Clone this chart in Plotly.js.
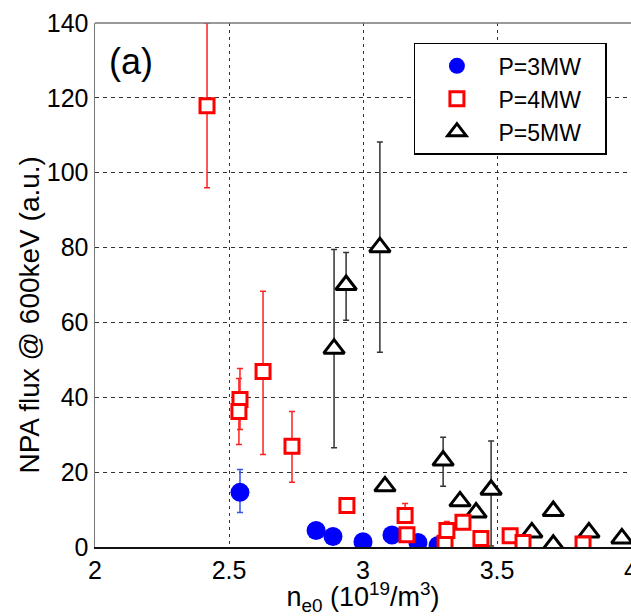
<!DOCTYPE html>
<html>
<head>
<meta charset="utf-8">
<script src="https://cdn.plot.ly/plotly-3.0.1.min.js"></script>
<style>html,body{margin:0;padding:0;background:#fff;}</style>
</head>
<body>
<div id="chart" style="width:631px;height:616px;"></div>
<script>
// P = 3 MW (blue circles)
const p3_x = [2.541, 2.825, 2.888, 3.000, 3.108, 3.205, 3.280];
const p3_y = [14.6, 4.4, 2.8, 1.4, 3.2, 1.2, 0.4];
const p3_errPlus  = [6.1, 0, 0, 0, 0, 0, 0];
const p3_errMinus = [5.4, 0, 0, 0, 0, 0, 0];

// P = 4 MW (red squares)
const p4_x = [2.418, 2.541, 2.537, 2.627, 2.735, 2.940, 3.157, 3.164, 3.306, 3.313, 3.373, 3.440, 3.549, 3.597, 3.821];
const p4_y = [117.9, 39.4, 36.2, 46.9, 26.9, 11.1, 8.4, 3.3, 1.0, 4.4, 6.6, 2.3, 3.0, 1.2, 0.8];
const p4_errPlus  = [22.1, 8.3, 8.8, 21.4, 9.3, 0, 3.2, 0, 0, 2.4, 0, 0, 0, 0, 0];
const p4_errMinus = [21.9, 8.0, 8.8, 22.2, 9.6, 0, 0, 0, 0, 0, 0, 0, 0, 0, 0];

// P = 5 MW (black triangles)
const p5_x = [2.892, 2.937, 3.063, 3.082, 3.299, 3.362, 3.422, 3.478, 3.630, 3.710, 3.710, 3.843, 3.966];
const p5_y = [53.0, 70.0, 80.1, 16.2, 23.1, 12.2, 9.2, 15.3, 3.9, 9.6, 0.6, 3.9, 2.3];
const p5_errPlus  = [26.5, 8.7, 28.1, 0, 6.2, 0, 0, 13.0, 0, 0, 0, 0, 0];
const p5_errMinus = [26.5, 9.4, 28.1, 0, 6.9, 0, 0, 15.0, 0, 0, 0, 0, 0];

const xTicks = [2, 2.5, 3, 3.5, 4];
const xTickText = ['2', '2.5', '3', '3.5', '4'];
const yTicks = [0, 20, 40, 60, 80, 100, 120, 140];
const seriesNames = ['P=3MW', 'P=4MW', 'P=5MW'];
const yTitle = 'NPA flux @ 600keV (a.u.)';
const xTitle = 'n<sub>e0</sub> (10<sup>19</sup>/m<sup>3</sup>)';

const FONT = 'Liberation Sans, Arial, sans-serif';
const PAD = '\u00A0\u00A0\u00A0';

const traces = [
  {
    x: p3_x, y: p3_y, type: 'scatter', mode: 'markers', name: seriesNames[0] + PAD, legendrank: 1,
    marker: {symbol: 'circle', size: 19, color: '#0000ff', line: {width: 0}},
    error_y: {type: 'data', symmetric: false, array: p3_errPlus, arrayminus: p3_errMinus,
              color: '#3355ee', thickness: 1.5, width: 3}
  },
  {
    x: p5_x, y: p5_y, type: 'scatter', mode: 'markers', name: seriesNames[2] + PAD, legendrank: 3,
    marker: {symbol: 'triangle-up', size: 18, color: '#ffffff', line: {width: 3, color: '#000000'}},
    error_y: {type: 'data', symmetric: false, array: p5_errPlus, arrayminus: p5_errMinus,
              color: '#333333', thickness: 1.5, width: 3}
  },
  {
    x: p4_x, y: p4_y, type: 'scatter', mode: 'markers', name: seriesNames[1] + PAD, legendrank: 2,
    marker: {symbol: 'square', size: 14, color: '#ffffff', line: {width: 3, color: '#ff0000'}},
    error_y: {type: 'data', symmetric: false, array: p4_errPlus, arrayminus: p4_errMinus,
              color: '#ff2020', thickness: 1.5, width: 3}
  }
];

const layout = {
  width: 631, height: 616,
  margin: {l: 95, r: 0, t: 23, b: 69},
  paper_bgcolor: '#ffffff', plot_bgcolor: '#ffffff',
  font: {family: FONT, color: '#000000'},
  showlegend: true,
  legend: {
    x: 0.595, y: 0.962, xanchor: 'left', yanchor: 'top',
    bgcolor: '#ffffff', bordercolor: '#000000', borderwidth: 1.5,
    font: {family: FONT, size: 23, color: '#000000'},
    traceorder: 'normal', itemwidth: 73
  },
  xaxis: {
    range: [2, 4], tickvals: xTicks, ticktext: xTickText,
    showgrid: true, gridcolor: '#333333', gridwidth: 1, griddash: '3px,4px',
    zeroline: false, showline: true, linecolor: '#111111', linewidth: 1.5,
    ticks: '', ticklabeloverflow: 'allow',
    tickfont: {family: FONT, size: 25, color: '#000000'},
    title: {text: xTitle, font: {family: FONT, size: 27, color: '#000000'}, standoff: 13},
    automargin: false
  },
  yaxis: {
    range: [0, 140], tickvals: yTicks,
    showgrid: true, gridcolor: '#333333', gridwidth: 1, griddash: '4px,4px',
    zeroline: false, showline: true, linecolor: '#777777', linewidth: 1.5,
    ticks: '', tickfont: {family: FONT, size: 25, color: '#000000'},
    automargin: false
  },
  shapes: [
    {type: 'line', xref: 'paper', yref: 'paper', x0: 0, x1: 1, y0: 1, y1: 1,
     line: {color: '#777777', width: 1.5}}
  ],
  annotations: [
    {text: '(a)', xref: 'paper', yref: 'paper', x: 0.067, y: 0.926,
     xanchor: 'center', yanchor: 'middle', showarrow: false,
     font: {family: FONT, size: 36, color: '#000000'}},
    {text: yTitle, xref: 'paper', yref: 'paper', x: -0.123, y: 0.442,
     xanchor: 'center', yanchor: 'middle', textangle: -90, showarrow: false,
     font: {family: FONT, size: 28, color: '#000000'}}
  ]
};

Plotly.newPlot('chart', traces, layout, {displayModeBar: false, staticPlot: true});
</script>
</body>
</html>
